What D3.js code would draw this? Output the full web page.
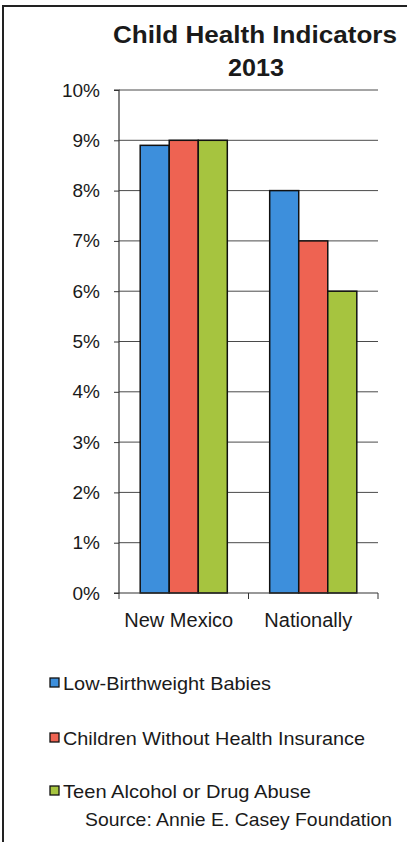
<!DOCTYPE html>
<html>
<head>
<meta charset="utf-8">
<script src="https://cdn.jsdelivr.net/npm/d3@7"></script>
<style>
  html, body { margin: 0; padding: 0; background: #fff; }
  svg { display: block; }
  text { font-family: "Liberation Sans", Arial, sans-serif; fill: #1a1a1a; }
</style>
</head>
<body>
<svg id="chart" width="407" height="842"></svg>
<script>
// Chart data
const categories = ["New Mexico", "Nationally"];
const seriesNames = ["Low-Birthweight Babies", "Children Without Health Insurance", "Teen Alcohol or Drug Abuse"];
const lowBirthweight = [8.9, 8.0];
const noInsurance = [9.0, 7.0];
const teenAbuse = [9.0, 6.0];
const yTicks = [0, 1, 2, 3, 4, 5, 6, 7, 8, 9, 10];
const seriesColors = ["#3d8fdc", "#ee6352", "#a6c43f"];
const title = ["Child Health Indicators", "2013"];
const source = "Source: Annie E. Casey Foundation";

const series = [lowBirthweight, noInsurance, teenAbuse];

const svg = d3.select("#chart");

// Outer frame (left and top edges)
svg.append("path")
  .attr("d", "M3,842 V6 H407")
  .attr("fill", "none")
  .attr("stroke", "#222")
  .attr("stroke-width", 2);

// Title
svg.append("text")
  .attr("x", 255).attr("y", 43)
  .attr("text-anchor", "middle")
  .attr("font-size", 23).attr("font-weight", "bold")
  .attr("textLength", 284).attr("lengthAdjust", "spacingAndGlyphs")
  .text(title[0]);
svg.append("text")
  .attr("x", 256).attr("y", 76)
  .attr("text-anchor", "middle")
  .attr("font-size", 23).attr("font-weight", "bold")
  .attr("textLength", 56).attr("lengthAdjust", "spacingAndGlyphs")
  .text(title[1]);

// Plot area
const plotLeft = 119, plotRight = 378, plotTop = 90, plotBottom = 593;

const x0 = d3.scaleBand().domain(categories).range([plotLeft, plotRight]).paddingInner(0).paddingOuter(0);
const x1 = d3.scaleBand().domain(d3.range(seriesNames.length)).range([0, x0.bandwidth()]).paddingOuter(0.73).paddingInner(0);
const y = d3.scaleLinear().domain([0, 10]).range([plotBottom, plotTop]);

// Gridlines
svg.append("g")
  .selectAll("line")
  .data(yTicks.filter(d => d > 0))
  .join("line")
  .attr("x1", plotLeft).attr("x2", plotRight)
  .attr("y1", d => y(d)).attr("y2", d => y(d))
  .attr("stroke", "#4a4a4a").attr("stroke-width", 1);

// Bars
const groups = svg.append("g")
  .selectAll("g")
  .data(categories)
  .join("g")
  .attr("transform", d => `translate(${x0(d)},0)`);

groups.selectAll("rect")
  .data((c, ci) => series.map((s, si) => ({ si, v: s[ci] })))
  .join("rect")
  .attr("x", d => x1(d.si))
  .attr("width", x1.bandwidth())
  .attr("y", d => y(d.v))
  .attr("height", d => y(0) - y(d.v))
  .attr("fill", d => seriesColors[d.si])
  .attr("stroke", "#111")
  .attr("stroke-width", 1.5);

// Y axis
const yAxis = d3.axisLeft(y)
  .tickValues(yTicks)
  .tickFormat(d => d + "%")
  .tickSize(5)
  .tickPadding(14);
const yg = svg.append("g").attr("transform", `translate(${plotLeft},0)`).call(yAxis);
yg.select(".domain").attr("stroke", "#333").attr("stroke-width", 1.2).attr("d", `M-5,${plotTop}H0V${plotBottom}H-5`);
yg.selectAll(".tick line").attr("stroke", "#333");
yg.selectAll(".tick text").attr("font-size", 19).attr("fill", "#1a1a1a")
  .style("font-family", "'Liberation Sans', Arial, sans-serif");

// X axis
const xAxis = d3.axisBottom(x0).tickSize(0).tickPadding(20);
const xg = svg.append("g").attr("transform", `translate(0,${plotBottom})`).call(xAxis);
xg.select(".domain").attr("stroke", "#333").attr("stroke-width", 1.2)
  .attr("d", `M${plotLeft},0H${plotRight}`);
xg.selectAll(".tick text").attr("font-size", 20).attr("fill", "#1a1a1a")
  .attr("dx", -5)
  .style("font-family", "'Liberation Sans', Arial, sans-serif");
// category separators
xg.append("g").selectAll("line")
  .data([plotLeft].concat(categories.map(c => x0(c) + x0.bandwidth())))
  .join("line")
  .attr("x1", d => d).attr("x2", d => d)
  .attr("y1", 0).attr("y2", 6)
  .attr("stroke", "#333");

// Legend
const legendY = [690, 745, 798];
const legend = svg.append("g")
  .selectAll("g")
  .data(seriesNames)
  .join("g")
  .attr("transform", (d, i) => `translate(50,${legendY[i]})`);
legend.append("rect")
  .attr("x", 0).attr("y", -12)
  .attr("width", 9).attr("height", 9)
  .attr("fill", (d, i) => seriesColors[i])
  .attr("stroke", "#111").attr("stroke-width", 1.3);
legend.append("text")
  .attr("x", 13).attr("y", 0)
  .attr("font-size", 19)
  .attr("textLength", (d, i) => [208, 302, 248][i])
  .attr("lengthAdjust", "spacingAndGlyphs")
  .text(d => d);

// Source note
svg.append("text")
  .attr("x", 85).attr("y", 826)
  .attr("font-size", 19)
  .attr("textLength", 307)
  .attr("lengthAdjust", "spacingAndGlyphs")
  .text(source);
</script>
</body>
</html>
